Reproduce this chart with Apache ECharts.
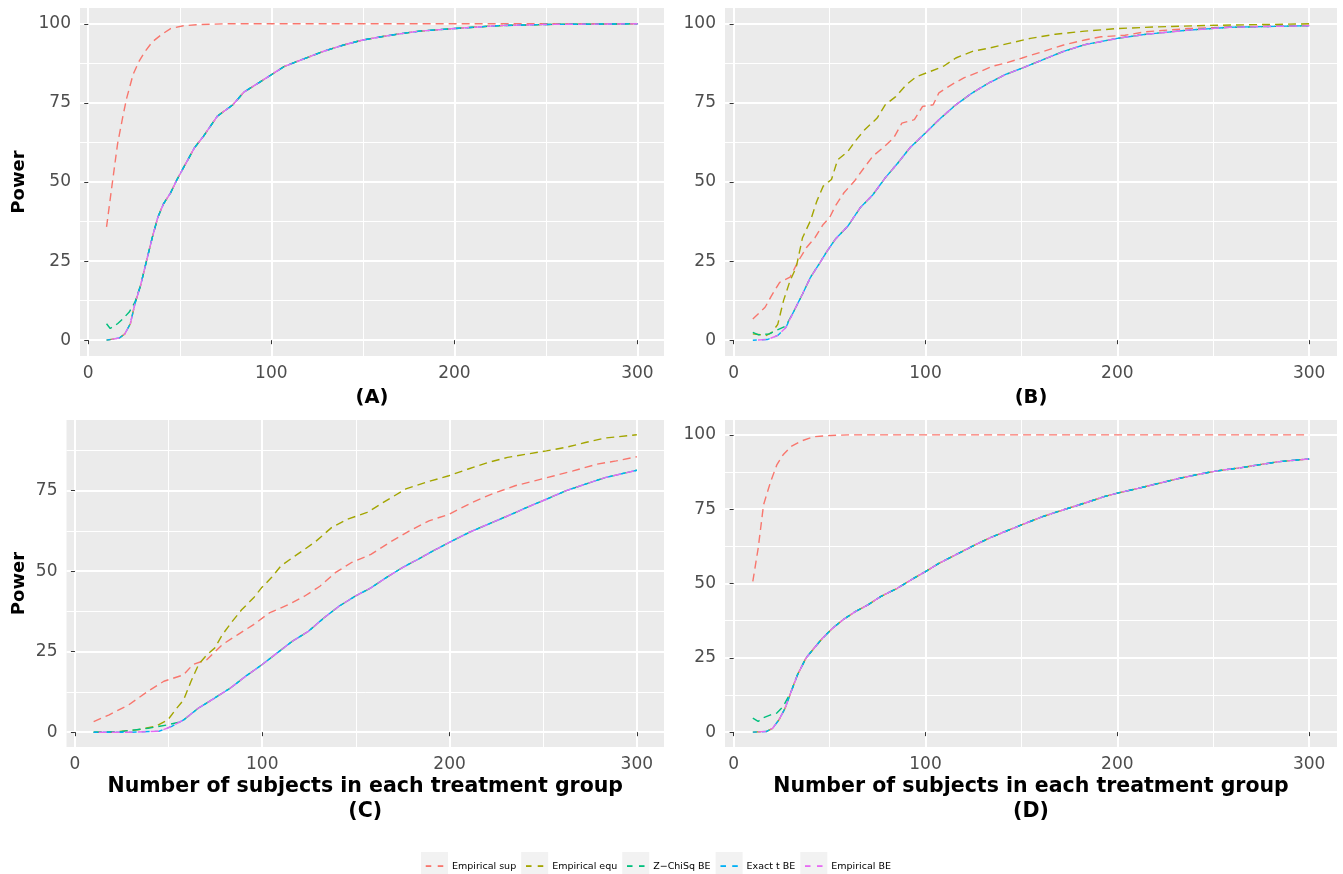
<!DOCTYPE html>
<html>
<head>
<meta charset="utf-8">
<script src="https://cdn.jsdelivr.net/npm/echarts@6/dist/echarts.min.js"></script>
<style>
  html, body { margin: 0; padding: 0; background: #fff; }
  #chart { width: 1343px; height: 874px; }
</style>
</head>
<body>
<div id="chart"></div>
<script>
// series names / colours (ggplot default hue palette)
const seriesNames = ['Empirical sup', 'Empirical equ', 'Z\u2212ChiSq BE', 'Exact t BE', 'Empirical BE']
const seriesColors = ['#F8766D', '#A3A500', '#00BF7D', '#00B0F6', '#E76BF3']

// tick values
const xMajor = [0, 100, 200, 300]
const xMinor = [50, 150, 250]
const yMajor = [0, 25, 50, 75, 100]
const yMajorC = [0, 25, 50, 75]
const yMinor = [12.5, 37.5, 62.5, 87.5]

// (A)
const supA = [[10, 35.8], [13, 49], [16, 62], [19, 71], [21, 76.5], [24.5, 84], [27.6, 88], [30.7, 91], [35, 94.3], [40, 96.6], [45, 98.5], [52, 99.4], [62, 99.8], [75, 100], [150, 100], [300, 100]]
const beA = [[10, 0], [17, 0.7], [20, 2], [23, 5.2], [25.5, 11.5], [28.6, 17.3], [31.8, 25], [35, 32.5], [38, 38.8], [41, 43], [45, 46.6], [48.5, 50.8], [54, 56.6], [58, 60.8], [63, 64.5], [70.5, 70.8], [79, 74.4], [85, 78.4], [93.5, 81.5], [100, 83.9], [107, 86.5], [118.5, 89.1], [129, 91.4], [139.5, 93.3], [150, 94.9], [160, 95.9], [171, 96.9], [181, 97.7], [200, 98.5], [223, 99.4], [250, 99.8], [300, 100]]
const zLowA = [[10, 5.2], [12, 3.7], [16, 5.2], [19, 6.8], [22.4, 8.9], [25.5, 12]]

// (B)
const supB = [[10, 6.7], [16.4, 10.4], [19.7, 14], [24, 18.3], [29.4, 19.9], [33.7, 25], [38, 29.3], [42.4, 32.4], [46.7, 36.6], [50, 38.7], [53, 42.4], [57.5, 46.6], [63, 50.3], [68, 54.5], [72.6, 58.2], [78, 60.9], [83.4, 63.9], [87.7, 68.6], [94.2, 69.7], [98.5, 73.9], [104, 74.4], [107, 78.2], [113.7, 80.8], [120, 82.9], [128.8, 85], [135, 86.6], [141.8, 87.6], [150.4, 89.2], [161, 91.2], [172, 93.3], [183, 94.9], [191.5, 95.9], [204, 96.4], [215, 97.5], [226, 98], [237, 98.5], [258.5, 99], [300, 99.5]]
const equB = [[10, 2], [17, 1.5], [20, 2.5], [23, 5], [26, 12.5], [29.4, 18.8], [32.6, 23], [35.9, 32.4], [40, 37.7], [43.4, 44], [46.7, 48.7], [51, 50.8], [54.2, 57], [59.6, 59.7], [64, 63.4], [68.3, 66.5], [74.8, 70.2], [79, 74.4], [84.5, 77], [89.9, 80.7], [95.3, 83.3], [102.8, 85], [109.4, 86.6], [115.8, 89.2], [124.5, 91.3], [133, 92.3], [144, 93.9], [154.7, 95.4], [167.7, 96.7], [183, 97.7], [200, 98.5], [219.6, 99], [247.7, 99.5], [300, 100]]
const beB = [[10, 0], [17.5, 0.2], [23, 1.5], [27.2, 4], [31.5, 9.3], [35.9, 14.6], [40, 19.8], [44.5, 24], [48.8, 28.2], [53, 31.9], [59.6, 36.1], [66, 41.9], [72.6, 46], [79, 51.3], [85.6, 56], [92, 60.9], [100, 65.5], [107, 69.7], [115.8, 74.4], [124.5, 78.2], [133, 81.3], [141.8, 84], [150.4, 86], [161, 88.6], [172, 91.3], [183, 93.4], [200, 95.4], [215, 96.7], [237, 98], [258.5, 98.9], [300, 99.4]]
const zLowB = [[10, 2.5], [13, 1.7], [18.6, 2], [24, 3.6], [27.2, 4.5]]

// (C)
const supC = [[10, 3.3], [18.3, 5.4], [28.75, 8.5], [39, 12.7], [47.5, 15.8], [58, 17.8], [63, 21], [70.4, 22.5], [78.75, 27.2], [87, 30.3], [95.4, 33.4], [103.75, 37], [114, 39.6], [122.5, 42.2], [130.8, 45.3], [139, 49.5], [147.5, 52.6], [158, 55.2], [168, 58.9], [178.75, 62.5], [189, 65.6], [199.6, 67.6], [212, 71.3], [222.5, 73.9], [235, 76.5], [245.4, 78], [256, 79.6], [266, 81.1], [278.75, 83.2], [289, 84.2], [300, 85.5]]
const equC = [[10, 0], [20, 0], [33, 0.7], [43, 1.8], [49.6, 3.8], [53.75, 7], [58, 10], [62, 15.8], [66, 21], [70.4, 24], [74.6, 26.1], [78.75, 30.3], [84, 34.4], [89, 38], [95.4, 41.7], [99.6, 44.8], [104.8, 47.9], [110, 51.6], [116, 54.1], [122.5, 56.7], [128.75, 59.3], [137, 63.5], [145.4, 66.1], [156, 68.2], [166, 71.8], [176.7, 75.5], [187, 77.5], [199.6, 79.6], [210, 81.7], [220.4, 83.7], [231, 85.3], [241, 86.3], [251.7, 87.3], [262, 88.4], [272.5, 89.9], [283, 91.3], [300, 92.3]]
const beC = [[10, 0], [30, 0], [45, 0.3], [51.7, 1.8], [58, 3.8], [66, 7.5], [74.6, 10.6], [83, 13.7], [91, 17.3], [100, 21], [108, 24.6], [116, 28.2], [124.6, 31.3], [133, 35.5], [141, 39.1], [149.6, 42.2], [158, 44.8], [166, 47.9], [174.6, 51], [183, 53.6], [191, 56.2], [199.6, 58.8], [210, 61.9], [220.4, 64.5], [231, 67.1], [241, 69.7], [251.7, 72.3], [262, 74.9], [272.5, 77], [283, 79], [300, 81.3]]
const zLowC = [[10, 0], [25, 0.2], [28.75, 0.5], [39, 1.2], [49.6, 2.3], [55, 3]]

// (D)
const supD = [[10, 50.7], [12.8, 61.9], [15.6, 76.5], [19.3, 84.3], [22.5, 89.9], [25.8, 93.3], [30, 96.1], [35.5, 98], [42, 99.4], [50.6, 99.8], [60, 100], [150, 100], [300, 100]]
const beD = [[10, 0], [17, 0.2], [20.3, 1.3], [23.6, 4.1], [26.8, 8], [30, 13.7], [33.3, 19.3], [37.7, 24.9], [42, 28.3], [46.3, 31.6], [51.7, 35], [57, 37.8], [63.6, 40.6], [70, 42.8], [76.6, 45.6], [85.3, 48.4], [94, 51.8], [100, 54], [107, 56.8], [115.6, 59.6], [124, 62.4], [133, 65.2], [141.6, 67.5], [150, 69.7], [161, 72.5], [172, 74.8], [182.7, 77], [193.5, 79.3], [200, 80.4], [210.8, 82], [221.6, 83.7], [232.5, 85.4], [243, 86.8], [252, 87.9], [262.8, 88.8], [273.6, 89.9], [284.4, 91], [300, 91.9]]
const zLowD = [[10, 4.7], [12.8, 3.6], [15, 4.7], [19.3, 5.8], [22.5, 6.4], [25.8, 8.6]]

// Z-ChiSq joins the other BE curves after the first few points
const zA = zLowA.concat(beA.filter(p => p[0] >= 28))
const zB = zLowB.concat(beB.filter(p => p[0] >= 31))
const zC = zLowC.concat(beC.filter(p => p[0] >= 58))
const zD = zLowD.concat(beD.filter(p => p[0] >= 30))

// per panel: sup, equ, z, exact t, empirical BE
const panelData = [
  [supA, beA, zA, beA, beA],
  [supB, equB, zB, beB, beB],
  [supC, equC, zC, beC, beC],
  [supD, beD, zD, beD, beD]
]

const FONT = 'DejaVu Sans'
const grids = [
  { left: 80, top: 8, width: 584, height: 348 },
  { left: 725, top: 8, width: 612, height: 348 },
  { left: 66.5, top: 420, width: 597.5, height: 327 },
  { left: 725, top: 420, width: 612, height: 327 }
]
const yRanges = [[-5, 105], [-5, 105], [-4.6, 96.9], [-5, 105]]
const xNames = ['(A)', '(B)', 'Number of subjects in each treatment group\n(C)', 'Number of subjects in each treatment group\n(D)']
const xNameGaps = [29, 29, 22.5, 22.5]
const xNameSizes = [19.5, 19.5, 20.5, 20.5]
const yNames = ['Power', '', 'Power', '']
const yNameGaps = [52, 0, 38.5, 0]

const xAxis = []
const yAxis = []
grids.forEach((g, i) => {
  const yTicks = i === 2 ? yMajorC : yMajor
  xAxis.push({
    gridIndex: i, type: 'value', min: -4.5, max: 314.5,
    axisLine: { show: false },
    axisTick: { customValues: xMajor, length: 4, lineStyle: { color: '#333', width: 1 } },
    axisLabel: { customValues: xMajor, color: '#4D4D4D', fontSize: 17, fontFamily: FONT, margin: 9 },
    splitLine: { show: true, lineStyle: { color: '#fff', width: 2 } },
    name: xNames[i], nameLocation: 'middle', nameGap: xNameGaps[i],
    nameTextStyle: { fontWeight: 'bold', fontSize: xNameSizes[i], color: '#000', fontFamily: FONT, lineHeight: 25 }
  })
  xAxis.push({
    gridIndex: i, type: 'value', min: -4.5, max: 314.5, position: 'top',
    axisLine: { show: false },
    axisTick: { show: false, customValues: xMinor },
    axisLabel: { show: false, customValues: xMinor },
    splitLine: { show: true, lineStyle: { color: '#fff', width: 1 } }
  })
  yAxis.push({
    gridIndex: i, type: 'value', min: yRanges[i][0], max: yRanges[i][1],
    axisLine: { show: false },
    axisTick: { customValues: yTicks, length: 4, lineStyle: { color: '#333', width: 1 } },
    axisLabel: { customValues: yTicks, color: '#4D4D4D', fontSize: 17, fontFamily: FONT, margin: 9 },
    splitLine: { show: true, lineStyle: { color: '#fff', width: 2 } },
    name: yNames[i], nameLocation: 'middle', nameGap: yNameGaps[i],
    nameTextStyle: { fontWeight: 'bold', fontSize: 18, color: '#000', fontFamily: FONT }
  })
  yAxis.push({
    gridIndex: i, type: 'value', min: yRanges[i][0], max: yRanges[i][1], position: 'right',
    axisLine: { show: false },
    axisTick: { show: false, customValues: yMinor },
    axisLabel: { show: false, customValues: yMinor },
    splitLine: { show: true, lineStyle: { color: '#fff', width: 1 } }
  })
})

const dashOffsets = [0, 0, 0, 4, 8]
const series = []
panelData.forEach((curves, i) => {
  curves.forEach((data, k) => {
    series.push({
      name: seriesNames[k],
      type: 'line',
      xAxisIndex: i * 2,
      yAxisIndex: i * 2,
      data: data,
      symbol: 'none',
      color: seriesColors[k],
      lineStyle: { color: seriesColors[k], width: 1.4, type: [8, 5], dashOffset: dashOffsets[k] },
      emphasis: { disabled: true }
    })
  })
})

const legendRich = { t: { fontSize: 9.5, color: '#000', fontFamily: FONT, padding: [0, 0, 0, 4] } }
seriesColors.forEach((c, k) => {
  legendRich['k' + k] = {
    width: 27, height: 29, lineHeight: 29, align: 'center',
    backgroundColor: '#F2F2F2', color: c, fontSize: 14, fontWeight: 'bold', fontFamily: FONT
  }
})

const chart = echarts.init(document.getElementById('chart'), null, { renderer: 'canvas' })
chart.setOption({
  animation: false,
  backgroundColor: '#fff',
  textStyle: { fontFamily: FONT },
  grid: grids.map(g => Object.assign({
    show: true, backgroundColor: '#EBEBEB', borderWidth: 0, containLabel: false, outerBoundsMode: 'none'
  }, g)),
  xAxis,
  yAxis,
  legend: {
    data: seriesNames,
    left: 416,
    top: 852,
    padding: 0,
    itemGap: 0,
    itemWidth: 0,
    itemHeight: 0,
    icon: 'none',
    formatter: name => `{k${seriesNames.indexOf(name)}|\u2013 \u2013}{t|${name}}`,
    textStyle: { rich: legendRich }
  },
  series
})
</script>
</body>
</html>
